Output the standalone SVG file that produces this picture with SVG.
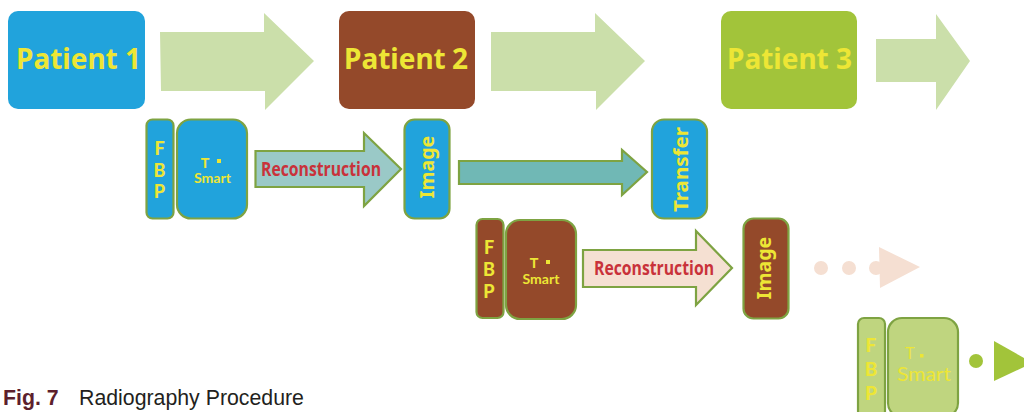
<svg xmlns="http://www.w3.org/2000/svg" width="1024" height="412" viewBox="0 0 1024 412">
<style>
text{font-family:"Noto Sans","DejaVu Sans",sans-serif;fill:#ede635;text-anchor:middle}
.pt{font-size:28px;font-weight:700;text-anchor:start}
.v{font-size:19.500px;font-weight:700}
.l{font-size:18px;font-weight:900;font-family:Lato,"Noto Sans",sans-serif}
.s{font-size:12.500px;font-weight:700;font-family:Lato,"Noto Sans",sans-serif}
.t{font-size:14px;font-weight:700;font-family:"Liberation Sans",Arial,sans-serif}
.rc{font-size:19px;font-weight:700;fill:#c9323a;font-family:"Open Sans","Noto Sans",sans-serif}
.box{stroke:#7ea342;stroke-width:2.2}
.blue{fill:#21a3dc}.brown{fill:#94492a}.lg{fill:#bfd57f}
.big{fill:#cbdfaa}
.dot{fill:#ede635}
.cap{font-family:"Liberation Sans",Arial,sans-serif;font-size:21.300px;fill:#231f20;text-anchor:start}
</style>
<rect width="1024" height="412" fill="#fff"/>
<g id="connectors">
<polygon class="big" points="160,32 264,32 264,13 314,61 265,110 265,91 161,91"/>
<polygon class="big" points="491,32 595,32 595,13 645,61 596,110 596,91 491,91"/>
<polygon class="big" points="876,39 936,39 936,14 970,61 936,110 936,82 876,82"/>
<polygon fill="#9ac9c7" stroke="#7ea342" stroke-width="2.2" points="255.500,151 364,151 364,133 401,169 364,206 364,187 255.500,187"/>
<polygon fill="#70b8b5" stroke="#7ea342" stroke-width="2.2" points="459,161 622,161 622,150 647,172 622,195 622,184 459,184"/>
<polygon fill="#f5e0d2" stroke="#7ea342" stroke-width="2.2" points="583,250 696,250 696,231 732,268 696,305 696,287 583,287"/>
<g fill="#f5dfd2"><circle cx="821" cy="268" r="7"/><circle cx="849" cy="268" r="7"/><circle cx="876" cy="268" r="7"/><polygon points="879,247 920,267 880,288"/></g>
<g fill="#a2c43a"><circle cx="976" cy="361" r="7"/><polygon points="994,341 1024,358 1024,367 994,381"/></g>
</g>
<g id="patient1"><rect x="8" y="11" width="137" height="98" rx="10" class="blue"/><text class="pt" x="16" y="69">Patient <tspan x="125">1</tspan></text></g>
<g id="patient2"><rect x="339" y="11" width="136" height="98" rx="10" class="brown"/><text class="pt" x="344" y="69">Patient <tspan x="452">2</tspan></text></g>
<g id="patient3"><rect x="721" y="11" width="136" height="98" rx="10" fill="#a2c43a"/><text class="pt" x="727" y="69">Patient <tspan x="836">3</tspan></text></g>
<g id="fbp1"><rect x="146.500" y="119.500" width="27" height="99" rx="6" class="box blue"/><text class="l" x="159.500" y="155">F</text><text class="l" x="159.500" y="177">B</text><text class="l" x="159.500" y="198">P</text></g>
<g id="tsmart1"><rect x="177" y="119.500" width="70" height="99" rx="14" class="box blue"/><text class="t" x="205" y="167.500">T</text><rect x="217" y="159" width="4" height="4" class="dot"/><text class="s" x="212.500" y="183" textLength="37" lengthAdjust="spacingAndGlyphs">Smart</text></g>
<g id="reconstruction1"><text class="rc" x="321" y="176" textLength="120" lengthAdjust="spacingAndGlyphs">Reconstruction</text></g>
<g id="image1"><rect x="404.500" y="119.500" width="45" height="99" rx="10" class="box blue"/><text class="v" transform="translate(434,167) rotate(-90)">Image</text></g>
<g id="transfer"><rect x="652" y="119.500" width="55" height="99" rx="12" class="box blue"/><text class="v" transform="translate(688,169.500) rotate(-90)" textLength="85" lengthAdjust="spacingAndGlyphs">Transfer</text></g>
<g id="fbp2"><rect x="476.500" y="219" width="27" height="99" rx="6" class="box brown"/><text class="l" x="489" y="254">F</text><text class="l" x="489" y="276">B</text><text class="l" x="489" y="298">P</text></g>
<g id="tsmart2"><rect x="506" y="220" width="70" height="99" rx="14" class="box brown"/><text class="t" x="534" y="268">T</text><rect x="546" y="260" width="4" height="4" class="dot"/><text class="s" x="541" y="283.500" textLength="37" lengthAdjust="spacingAndGlyphs">Smart</text></g>
<g id="reconstruction2"><text class="rc" x="654" y="275" textLength="120" lengthAdjust="spacingAndGlyphs">Reconstruction</text></g>
<g id="image2"><rect x="743.500" y="218.500" width="45" height="100" rx="10" class="box brown"/><text class="v" transform="translate(771,268) rotate(-90)">Image</text></g>
<g id="fbp3"><rect x="858" y="318" width="27" height="99" rx="6" class="box lg"/><text class="l" x="871" y="352" style="font-size:19px">F</text><text class="l" x="871" y="376" style="font-size:19px">B</text><text class="l" x="871" y="400" style="font-size:19px">P</text></g>
<g id="tsmart3"><rect x="888" y="318" width="70" height="99" rx="14" class="box lg"/><text class="t" x="910" y="358.500" style="font-size:16px;font-weight:400">T</text><rect x="920" y="354" width="3.500" height="3.500" class="dot"/><text class="s" x="924" y="381" style="font-size:19px;font-weight:400" textLength="54" lengthAdjust="spacingAndGlyphs">Smart</text></g>
<g id="caption"><text class="cap" x="3" y="405" style="font-weight:700;fill:#5d1f2c">Fig. 7</text><text class="cap" x="79" y="405">Radiography Procedure</text></g>
</svg>
